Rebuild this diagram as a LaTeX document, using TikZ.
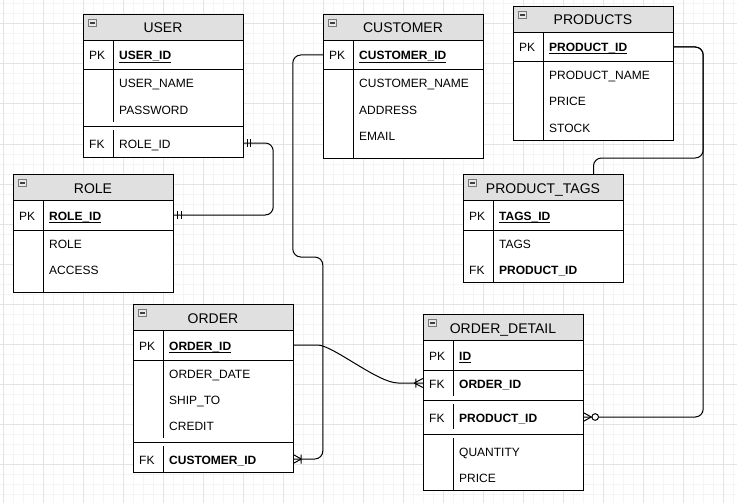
\documentclass[tikz,border=0pt]{standalone}
\usepackage{fontspec}
\setmainfont{Liberation Sans}
\usetikzlibrary{calc}
\definecolor{hdrgray}{RGB}{224,224,224}
\definecolor{gridminor}{RGB}{244,244,244}
\definecolor{gridmajor}{RGB}{228,228,228}
\definecolor{icongray}{RGB}{120,120,120}
\newcommand\pkul[1]{\setbox0\hbox{#1}\rlap{\rule[-2.4pt]{\wd0}{0.9pt}}\box0}
\begin{document}
\begin{tikzpicture}[x=1pt,y=-1pt,
  tbl/.style={draw, line width=1pt, anchor=north west, minimum width=160pt, inner sep=0pt, fill=white},
  hdr/.style={draw, line width=1pt, fill=hdrgray, anchor=north west, minimum width=160pt, minimum height=26pt, inner sep=0pt},
  hdrtxt/.style={anchor=base, inner sep=0pt, font=\fontsize{14}{16}\selectfont, yshift=-6pt},
  txt/.style={anchor=base west, inner sep=0pt, font=\fontsize{12}{14}\selectfont, yshift=-5pt},
  rowbox/.style={minimum width=160pt, minimum height=20pt, inner sep=0pt, draw=none},
  sep/.style={line width=1pt},
  conn/.style={line width=1pt, rounded corners=8pt},
  ermark/.style={line width=1pt},
  iconbox/.style={draw=icongray, fill=hdrgray!70, line width=0.8pt},
  iconminus/.style={draw=black!75, line width=1.2pt},
]
\useasboundingbox (0,0) rectangle (737,503);
\fill[white] (0,0) rectangle (737,503);
% grid
\foreach \x in {3,13,...,733} \draw[gridminor, line width=1pt] (\x,0) -- (\x,503);
\foreach \y in {4,14,...,503} \draw[gridminor, line width=1pt] (0,\y) -- (737,\y);
\foreach \x in {3,43,...,733} \draw[gridmajor, line width=1pt] (\x,0) -- (\x,503);
\foreach \y in {24,64,...,503} \draw[gridmajor, line width=1pt] (0,\y) -- (737,\y);

% ===== USER =====
\node[tbl, minimum height=143pt] (user) at (83,14) {};
\node[hdr] (u-h) at (83,14) {};
\node[hdrtxt] (u-t) at (163,27) {USER};
\draw[iconbox] (88.5,19.5) rectangle (96.5,26.5);
\draw[iconminus] (90,23) -- (95,23);
\draw[sep] (83,70) -- (243,70) (83,126) -- (243,126);
\draw[sep] (113,40) -- (113,70) (113,70) -- (113,122) (113,130) -- (113,157);
\node[rowbox] (u-pk) at (163,55) {};
\node[rowbox] (u-fk) at (163,143) {};
\node[txt] (u-k1) at (89,55) {PK};
\node[txt] (u-a1) at (119,55) {\pkul{\textbf{USER\_ID}}};
\node[txt] (u-a2) at (119,83) {USER\_NAME};
\node[txt] (u-a3) at (119,109) {PASSWORD};
\node[txt] (u-k2) at (89,143) {FK};
\node[txt] (u-a4) at (119,143) {ROLE\_ID};

% ===== ROLE =====
\node[tbl, minimum height=118pt] (role) at (13,174) {};
\node[hdr] (r-h) at (13,174) {};
\node[hdrtxt] (r-t) at (93,187) {ROLE};
\draw[iconbox] (18.5,179.5) rectangle (26.5,186.5);
\draw[iconminus] (20,183) -- (25,183);
\draw[sep] (13,230) -- (173,230);
\draw[sep] (43,200) -- (43,292);
\node[rowbox] (r-pk) at (93,215) {};
\node[txt] (r-k1) at (19,215) {PK};
\node[txt] (r-a1) at (49,215) {\pkul{\textbf{ROLE\_ID}}};
\node[txt] (r-a2) at (49,243) {ROLE};
\node[txt] (r-a3) at (49,269) {ACCESS};

% ===== CUSTOMER =====
\node[tbl, minimum height=144pt] (customer) at (323,14) {};
\node[hdr] (c-h) at (323,14) {};
\node[hdrtxt] (c-t) at (403,27) {CUSTOMER};
\draw[iconbox] (328.5,19.5) rectangle (336.5,26.5);
\draw[iconminus] (330,23) -- (335,23);
\draw[sep] (323,70) -- (483,70);
\draw[sep] (353,40) -- (353,158);
\node[rowbox] (c-pk) at (403,55) {};
\node[txt] (c-k1) at (329,55) {PK};
\node[txt] (c-a1) at (359,55) {\pkul{\textbf{CUSTOMER\_ID}}};
\node[txt] (c-a2) at (359,83) {CUSTOMER\_NAME};
\node[txt] (c-a3) at (359,109) {ADDRESS};
\node[txt] (c-a4) at (359,135) {EMAIL};

% ===== PRODUCTS =====
\node[tbl, minimum height=134pt] (products) at (513,6) {};
\node[hdr] (p-h) at (513,6) {};
\node[hdrtxt] (p-t) at (593,19) {PRODUCTS};
\draw[iconbox] (518.5,11.5) rectangle (526.5,18.5);
\draw[iconminus] (520,15) -- (525,15);
\draw[sep] (513,62) -- (673,62);
\draw[sep] (543,32) -- (543,140);
\node[rowbox] (p-pk) at (593,47) {};
\node[txt] (p-k1) at (519,47) {PK};
\node[txt] (p-a1) at (549,47) {\pkul{\textbf{PRODUCT\_ID}}};
\node[txt] (p-a2) at (549,75) {PRODUCT\_NAME};
\node[txt] (p-a3) at (549,101) {PRICE};
\node[txt] (p-a4) at (549,127) {STOCK};

% ===== PRODUCT_TAGS =====
\node[tbl, minimum height=108pt] (ptags) at (463,174) {};
\node[hdr] (pt-h) at (463,174) {};
\node[hdrtxt] (pt-t) at (543,187) {PRODUCT\_TAGS};
\draw[iconbox] (468.5,179.5) rectangle (476.5,186.5);
\draw[iconminus] (470,183) -- (475,183);
\draw[sep] (463,230) -- (623,230);
\draw[sep] (493,200) -- (493,282);
\node[rowbox] (pt-pk) at (543,215) {};
\node[txt] (pt-k1) at (469,215) {PK};
\node[txt] (pt-a1) at (499,215) {\pkul{\textbf{TAGS\_ID}}};
\node[txt] (pt-a2) at (499,243) {TAGS};
\node[txt] (pt-k2) at (469,269) {FK};
\node[txt] (pt-a3) at (499,269) {\textbf{PRODUCT\_ID}};

% ===== ORDER =====
\node[tbl, minimum height=168pt] (order) at (133,304) {};
\node[hdr] (o-h) at (133,304) {};
\node[hdrtxt] (o-t) at (213,317) {ORDER};
\draw[iconbox] (138.5,309.5) rectangle (146.5,316.5);
\draw[iconminus] (140,313) -- (145,313);
\draw[sep] (133,360) -- (293,360) (133,442) -- (293,442);
\draw[sep] (163,330) -- (163,360) (163,360) -- (163,438) (163,446) -- (163,472);
\node[rowbox] (o-pk) at (213,345) {};
\node[rowbox] (o-fk) at (213,459) {};
\node[txt] (o-k1) at (139,345) {PK};
\node[txt] (o-a1) at (169,345) {\pkul{\textbf{ORDER\_ID}}};
\node[txt] (o-a2) at (169,373) {ORDER\_DATE};
\node[txt] (o-a3) at (169,399) {SHIP\_TO};
\node[txt] (o-a4) at (169,425) {CREDIT};
\node[txt] (o-k2) at (139,459) {FK};
\node[txt] (o-a5) at (169,459) {\textbf{CUSTOMER\_ID}};

% ===== ORDER_DETAIL =====
\node[tbl, minimum height=176pt] (odetail) at (423,314) {};
\node[hdr] (od-h) at (423,314) {};
\node[hdrtxt] (od-t) at (503,327) {ORDER\_DETAIL};
\draw[iconbox] (428.5,319.5) rectangle (436.5,326.5);
\draw[iconminus] (430,323) -- (435,323);
\draw[sep] (423,370) -- (583,370) (423,400) -- (583,400) (423,434) -- (583,434);
\draw[sep] (453,340) -- (453,370) (453,370) -- (453,396) (453,404) -- (453,429) (453,438) -- (453,490);
\node[rowbox] (od-pk) at (503,355) {};
\node[rowbox] (od-fk1) at (503,383) {};
\node[rowbox] (od-fk2) at (503,417) {};
\node[txt] (od-k1) at (429,355) {PK};
\node[txt] (od-a1) at (459,355) {\pkul{\textbf{ID}}};
\node[txt] (od-k2) at (429,383) {FK};
\node[txt] (od-a2) at (459,383) {\textbf{ORDER\_ID}};
\node[txt] (od-k3) at (429,417) {FK};
\node[txt] (od-a3) at (459,417) {\textbf{PRODUCT\_ID}};
\node[txt] (od-a4) at (459,451) {QUANTITY};
\node[txt] (od-a5) at (459,477) {PRICE};

% ===== connectors =====
% USER.ROLE_ID -- ROLE.ROLE_ID (one to one)
\draw[conn] (u-fk.east) -- ++(30,0) |- (r-pk.east);
\draw[ermark] ([xshift=4pt]u-fk.east) ++(0,-4) -- ++(0,8)
              ([xshift=7.5pt]u-fk.east) ++(0,-4) -- ++(0,8);
\draw[ermark] ([xshift=4pt]r-pk.east) ++(0,-4) -- ++(0,8)
              ([xshift=8pt]r-pk.east) ++(0,-4) -- ++(0,8);

% CUSTOMER.CUSTOMER_ID -- ORDER.CUSTOMER_ID (one to many)
\draw[conn] (c-pk.west) -- ++(-30,0) -- ++(0,202) -- ++(30,0) |- (o-fk.east);
\draw[ermark] ([xshift=8pt]o-fk.east) -- ++(-8,-4.5)
              ([xshift=8pt]o-fk.east) -- ++(-8,4.5)
              ([xshift=8pt]o-fk.east) ++(0,-4.5) -- ++(0,9);

% ORDER.ORDER_ID -- ORDER_DETAIL.ORDER_ID (one to many, curved)
\draw[line width=1pt] (o-pk.east) -- (318,345) .. controls (334,346) and (378,383) .. (398,383) -- (od-fk1.west);
\draw[ermark] ([xshift=-8.5pt]od-fk1.west) -- ++(8.5,-4.5)
              ([xshift=-8.5pt]od-fk1.west) -- ++(8.5,4.5)
              ([xshift=-7pt]od-fk1.west) ++(0,-4.5) -- ++(0,9);

% PRODUCTS.PRODUCT_ID -- ORDER_DETAIL.PRODUCT_ID (zero to many)
\draw[conn] (p-pk.east) -- ++(30,0) |- (od-fk2.east);
\draw[ermark] ([xshift=8pt]od-fk2.east) -- ++(-8,-4.5)
              ([xshift=8pt]od-fk2.east) -- ++(-8,4.5);
\draw[ermark, fill=white] ([xshift=12pt]od-fk2.east) circle[radius=3.3pt];

% PRODUCT_TAGS -- PRODUCTS
\draw[conn] ([xshift=50pt]pt-h.north) -- ++(0,-16) -| ([xshift=30pt]p-pk.east) -- (p-pk.east);
\end{tikzpicture}
\end{document}
